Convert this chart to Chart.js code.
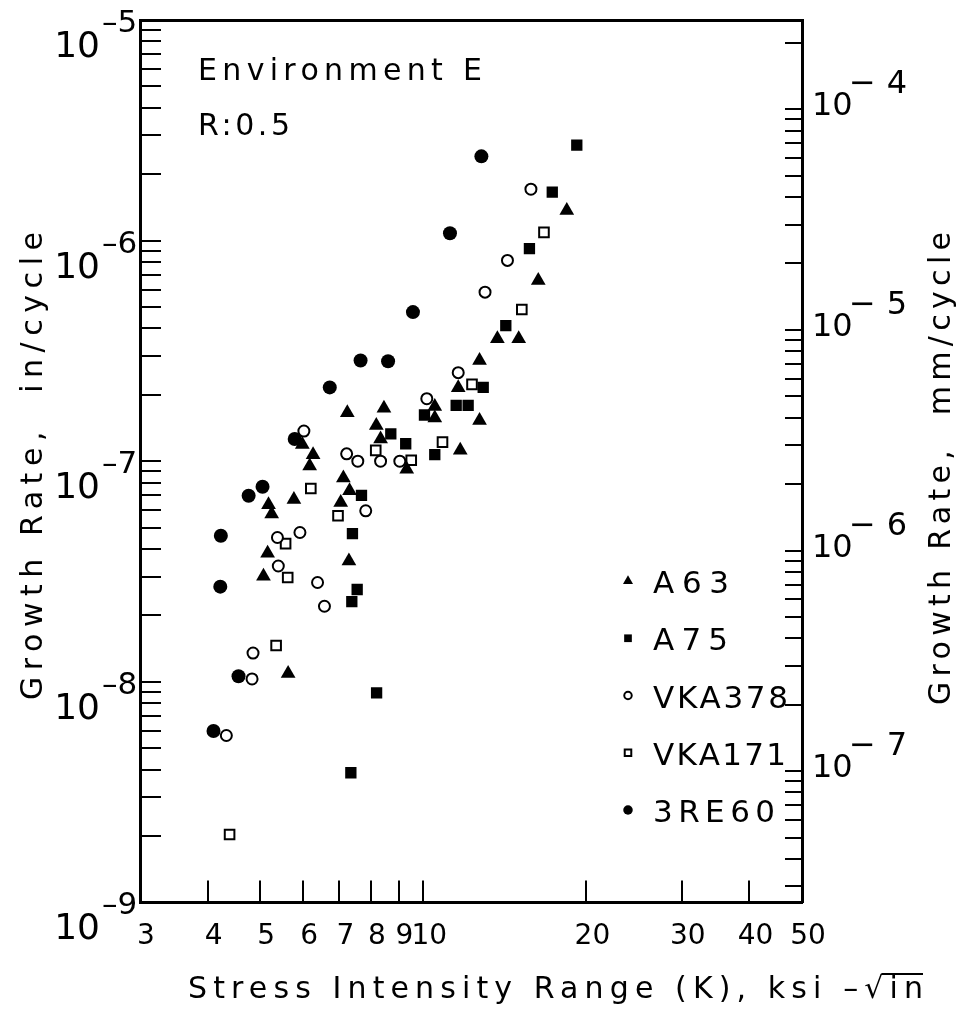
<!DOCTYPE html>
<html>
<head>
<meta charset="utf-8">
<script src="https://cdn.jsdelivr.net/npm/chart.js@4.4.1/dist/chart.umd.min.js"></script>
<style>
  html, body { margin: 0; padding: 0; background: #fff; }
  #wrap { width: 968px; height: 1009px; }
</style>
</head>
<body>
<div id="wrap"><canvas id="grafico" width="968" height="1009"></canvas></div>
<script>
// stress intensity range K (ksi-sqrt(in)) and growth rate (in/cycle)
var kA63 = [18.4, 16.3, 13.7, 15.0, 12.7, 11.6, 10.5, 10.5, 12.7, 7.24, 8.46, 8.19, 8.34, 11.7, 9.32, 5.98, 6.26, 6.17, 7.12, 7.31, 5.77, 5.18, 5.25, 7.04, 5.16, 7.29, 5.07, 5.63];
var rateA63 = [1.37e-6, 6.60e-7, 3.59e-7, 3.59e-7, 2.86e-7, 2.15e-7, 1.77e-7, 1.57e-7, 1.53e-7, 1.66e-7, 1.74e-7, 1.45e-7, 1.26e-7, 1.12e-7, 9.2e-8, 1.19e-7, 1.07e-7, 9.5e-8, 8.4e-8, 7.35e-8, 6.7e-8, 6.35e-8, 5.76e-8, 6.5e-8, 3.83e-8, 3.53e-8, 3.01e-8, 1.09e-8];

var kA75 = [19.2, 17.3, 15.7, 14.2, 12.9, 11.5, 12.1, 10.05, 8.71, 9.28, 10.5, 7.69, 7.40, 7.55, 7.38, 8.20, 7.35];
var rateA75 = [2.71e-6, 1.66e-6, 9.2e-7, 4.12e-7, 2.16e-7, 1.79e-7, 1.79e-7, 1.62e-7, 1.33e-7, 1.2e-7, 1.07e-7, 7.0e-8, 4.7e-8, 2.62e-8, 2.31e-8, 8.9e-9, 3.87e-9];

var kVKA378 = [15.8, 14.3, 13.0, 11.6, 10.15, 6.02, 7.22, 7.57, 8.34, 9.05, 7.83, 5.92, 5.38, 5.40, 6.38, 6.57, 4.85, 4.83, 4.33];
var rateVKA378 = [1.71e-6, 8.13e-7, 5.84e-7, 2.52e-7, 1.92e-7, 1.37e-7, 1.08e-7, 1.0e-7, 1.0e-7, 1.0e-7, 5.96e-8, 4.75e-8, 4.51e-8, 3.35e-8, 2.82e-8, 2.2e-8, 1.35e-8, 1.03e-8, 5.71e-9];

var kVKA171 = [16.7, 15.2, 12.3, 10.85, 8.17, 9.50, 6.20, 6.96, 5.57, 5.62, 5.35, 4.39];
var rateVKA171 = [1.09e-6, 4.87e-7, 2.23e-7, 1.22e-7, 1.12e-7, 1.01e-7, 7.52e-8, 5.66e-8, 4.23e-8, 2.97e-8, 1.46e-8, 2.03e-9];

var k3RE60 = [12.8, 11.2, 9.57, 7.66, 8.61, 6.72, 5.79, 5.05, 4.76, 4.23, 4.22, 4.56, 4.10];
var rate3RE60 = [2.41e-6, 1.08e-6, 4.74e-7, 2.86e-7, 2.84e-7, 2.16e-7, 1.26e-7, 7.66e-8, 6.97e-8, 4.59e-8, 2.7e-8, 1.06e-8, 5.98e-9];

var seriesNames = ["A63", "A75", "VKA378", "VKA171", "3RE60"];

// axes
var xTicks = [3, 4, 5, 6, 7, 8, 9, 10, 20, 30, 40, 50];
var inDecades = [-9, -8, -7, -6, -5];   // labelled powers, in/cycle
var mmDecades = [-7, -6, -5, -4];       // labelled powers, mm/cycle
var mmPerIn = 25.4;

var textFont = '"DejaVu Sans", sans-serif';
var numFont = '"DejaVu Sans", sans-serif';

function pares(k, r) {
    return k.map(function (v, i) { return { x: v, y: r[i] }; });
}

// log ticks 1..9 x 10^e between lo and hi
function logTicks(lo, hi) {
    var t = [];
    for (var e = Math.floor(Math.log10(lo)) - 1; e <= Math.ceil(Math.log10(hi)); e++) {
        for (var m = 1; m <= 9; m++) {
            var v = m * Math.pow(10, e);
            if (v >= lo * 0.999 && v <= hi * 1.001) t.push({ value: v });
        }
    }
    return t;
}

// texto com espacamento ajustado a uma largura
function spacedText(ctx, text, x, y, width) {
    ctx.letterSpacing = '0px';
    var w = ctx.measureText(text).width;
    var n = Array.from(text).length;
    var sp = n > 1 ? (width - w) / (n - 1) : 0;
    ctx.letterSpacing = sp + 'px';
    ctx.fillText(text, x, y);
    ctx.letterSpacing = '0px';
    return sp;
}

var legendWidths = [76, 75, 135, 133, 122];

var extras = {
    id: 'extras',
    afterDraw: function (chart) {
        var ctx = chart.ctx;
        var area = chart.chartArea;
        var sx = chart.scales.x;
        var yIn = chart.scales.y;
        var yMm = chart.scales.mm;
        ctx.save();
        ctx.fillStyle = '#000';
        ctx.strokeStyle = '#000';

        // marcas para dentro
        ctx.lineWidth = 2;
        ctx.beginPath();
        sx.ticks.forEach(function (t) {
            var px = Math.round(sx.getPixelForValue(t.value));
            ctx.moveTo(px, area.bottom);
            ctx.lineTo(px, area.bottom - 22);
        });
        yIn.ticks.forEach(function (t) {
            var py = Math.round(yIn.getPixelForValue(t.value));
            ctx.moveTo(area.left, py);
            ctx.lineTo(area.left + 21, py);
        });
        yMm.ticks.forEach(function (t) {
            var py = Math.round(yMm.getPixelForValue(t.value));
            ctx.moveTo(area.right, py);
            ctx.lineTo(area.right - 17, py);
        });
        ctx.stroke();

        ctx.textBaseline = 'alphabetic';

        // rotulos eixo esquerdo
        inDecades.forEach(function (e) {
            var py = yIn.getPixelForValue(Math.pow(10, e));
            ctx.font = '36px ' + numFont;
            ctx.textAlign = 'right';
            ctx.fillText('10', 100, py + 37);
            ctx.textAlign = 'left';
            ctx.font = '31px ' + numFont;
            ctx.fillText('\u2013' + Math.abs(e), 102, py + 12);
        });

        // rotulos eixo direito
        mmDecades.forEach(function (e) {
            var py = yMm.getPixelForValue(Math.pow(10, e));
            ctx.textAlign = 'left';
            ctx.font = '32px ' + numFont;
            ctx.fillText('10', 812, py + 6);
            spacedText(ctx, '\u2212' + Math.abs(e), 849, py - 16, 58);
        });

        ctx.textAlign = 'left';
        ctx.font = '30px ' + textFont;

        // titulos dos eixos
        ctx.save();
        ctx.translate(42, 700);
        ctx.rotate(-Math.PI / 2);
        spacedText(ctx, 'Growth Rate,  in/cycle', 0, 0, 468);
        ctx.restore();

        ctx.save();
        ctx.translate(950, 705);
        ctx.rotate(-Math.PI / 2);
        spacedText(ctx, 'Growth Rate,  mm/cycle', 0, 0, 473);
        ctx.restore();

        var pre = 'Stress Intensity Range (K), ksi \u2013\u221A';
        var full = pre + 'in';
        var sp = spacedText(ctx, full, 188, 998, 735);
        ctx.letterSpacing = sp + 'px';
        var wPre = ctx.measureText(pre).width;
        var wAll = ctx.measureText(full).width;
        ctx.letterSpacing = '0px';
        ctx.lineWidth = 2;
        ctx.beginPath();
        ctx.moveTo(188 + wPre - sp - 2, 974);
        ctx.lineTo(188 + wAll - sp, 974);
        ctx.stroke();

        // anotacoes
        ctx.font = '30px ' + textFont;
        spacedText(ctx, 'Environment E', 198, 80, 284);
        spacedText(ctx, 'R:0.5', 198, 135, 92);

        // legenda
        chart.data.datasets.forEach(function (ds, i) {
            var cy = 581 + i * 57.25;
            ctx.fillStyle = ds.backgroundColor;
            ctx.strokeStyle = '#000';
            ctx.lineWidth = ds.borderWidth;
            Chart.helpers.drawPoint(ctx, {
                pointStyle: ds.pointStyle,
                radius: ds.pointRadius * 0.68,
                borderWidth: ds.borderWidth,
                rotation: 0
            }, 628, cy);
            ctx.fillStyle = '#000';
            ctx.font = '31px ' + textFont;
            spacedText(ctx, ds.label, 653, cy + 12, legendWidths[i]);
        });
        ctx.restore();
    }
};

var ctx = document.getElementById('grafico').getContext('2d');
var grafico = new Chart(ctx, {
    type: 'scatter',
    data: {
        datasets: [
            { label: seriesNames[0], data: pares(kA63, rateA63), pointStyle: 'triangle', pointRadius: 8.5, backgroundColor: '#000', borderColor: '#000', borderWidth: 0 },
            { label: seriesNames[1], data: pares(kA75, rateA75), pointStyle: 'rect', pointRadius: 8, backgroundColor: '#000', borderColor: '#000', borderWidth: 0 },
            { label: seriesNames[2], data: pares(kVKA378, rateVKA378), pointStyle: 'circle', pointRadius: 5.5, backgroundColor: '#fff', borderColor: '#000', borderWidth: 2 },
            { label: seriesNames[3], data: pares(kVKA171, rateVKA171), pointStyle: 'rect', pointRadius: 6.8, backgroundColor: '#fff', borderColor: '#000', borderWidth: 2 },
            { label: seriesNames[4], data: pares(k3RE60, rate3RE60), pointStyle: 'circle', pointRadius: 7, backgroundColor: '#000', borderColor: '#000', borderWidth: 0 }
        ]
    },
    options: {
        responsive: false,
        devicePixelRatio: 1,
        animation: false,
        layout: { padding: { left: 140, right: 166, top: 20, bottom: 37 } },
        plugins: { legend: { display: false }, tooltip: { enabled: false } },
        scales: {
            x: {
                type: 'logarithmic', position: 'bottom', min: 3, max: 50,
                afterBuildTicks: function (s) { s.ticks = xTicks.map(function (v) { return { value: v }; }); },
                ticks: {
                    autoSkip: false, maxRotation: 0, padding: 18, labelOffset: 6, color: '#000',
                    font: { family: numFont, size: 28 },
                    callback: function (v) { return String(v); }
                },
                grid: { drawOnChartArea: false, drawTicks: false },
                border: { color: '#000', width: 3 }
            },
            top: {
                axis: 'x', type: 'logarithmic', position: 'top', min: 3, max: 50,
                ticks: { display: false },
                grid: { drawOnChartArea: false, drawTicks: false },
                border: { color: '#000', width: 3 }
            },
            y: {
                type: 'logarithmic', position: 'left', min: 1e-9, max: 1e-5,
                afterBuildTicks: function (s) { s.ticks = logTicks(1e-9, 1e-5); },
                ticks: { display: false },
                grid: { drawOnChartArea: false, drawTicks: false },
                border: { color: '#000', width: 3 }
            },
            mm: {
                axis: 'y', type: 'logarithmic', position: 'right', min: 1e-9 * mmPerIn, max: 1e-5 * mmPerIn,
                afterBuildTicks: function (s) { s.ticks = logTicks(1e-9 * mmPerIn, 1e-5 * mmPerIn); },
                ticks: { display: false },
                grid: { drawOnChartArea: false, drawTicks: false },
                border: { color: '#000', width: 3 }
            }
        }
    },
    plugins: [extras]
});
</script>
</body>
</html>
